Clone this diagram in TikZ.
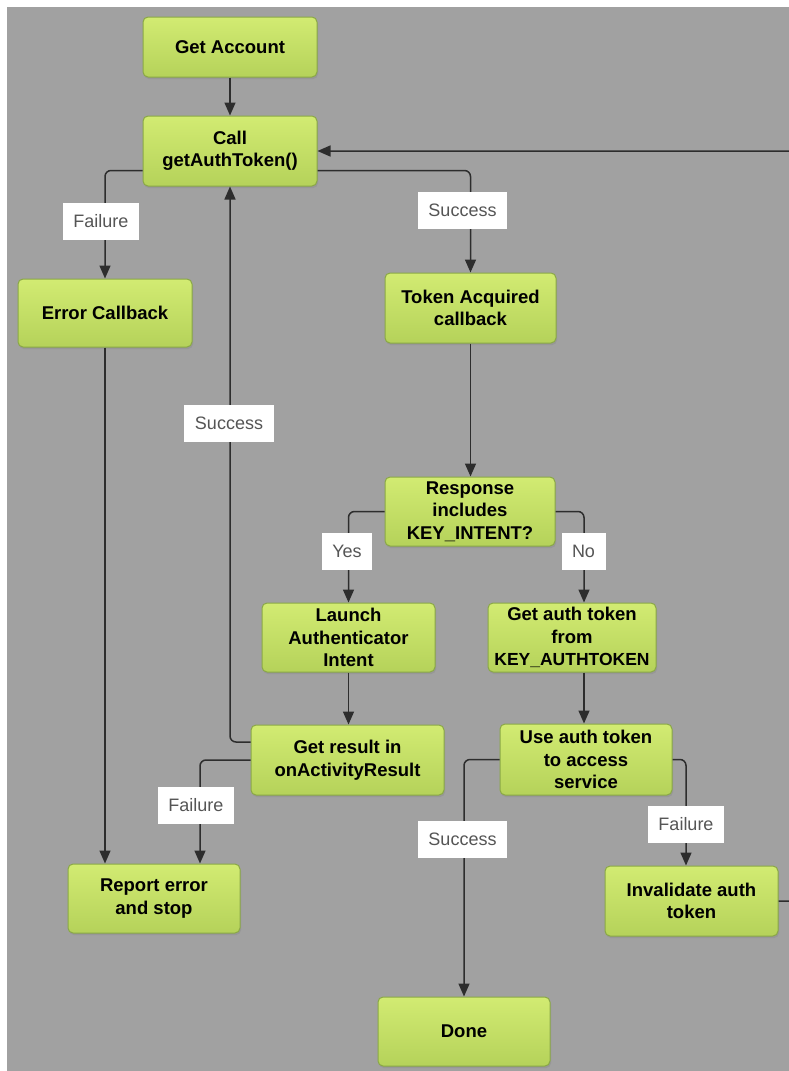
\documentclass[tikz,border=0pt]{standalone}
\usepackage{fontspec}
\setmainfont{Liberation Sans}
\usetikzlibrary{arrows.meta,shadows}
\definecolor{canvas}{RGB}{161,161,161}
\definecolor{boxtop}{RGB}{210,235,114}
\definecolor{boxbot}{RGB}{181,210,90}
\definecolor{boxedge}{RGB}{138,168,70}
\definecolor{wire}{RGB}{45,45,45}
\definecolor{labeltext}{RGB}{85,85,85}
\begin{document}
\begin{tikzpicture}[x=1pt,y=-1pt,
  stepbox/.style n args={2}{draw=boxedge, line width=1pt, rounded corners=5pt,
    top color=boxtop, bottom color=boxbot,
    drop shadow={shadow xshift=1pt, shadow yshift=-2pt, opacity=0.3},
    minimum width=#1pt, minimum height=#2pt, inner ysep=1pt,
    align=center, text=black,
    font=\fontsize{18.5}{22.5}\selectfont\bfseries},
  conn/.style={draw=wire, line width=1.5pt, rounded corners=6pt,
    -{Triangle[length=13pt,width=11pt]}},
  tag/.style={fill=white, text=labeltext, inner xsep=10.5pt, inner ysep=0pt,
    minimum height=37pt, font=\fontsize{18}{20}\selectfont}]

% page and canvas
\useasboundingbox (0,0) rectangle (789,1071);
\fill[white] (0,0) rectangle (789,1071);
\fill[canvas] (7,7) rectangle (790,1072);
\clip (0,0) rectangle (789,1071);

% steps
\node[stepbox={174}{60}] (acct) at (230,47) {Get Account};
\node[stepbox={174}{70}] (call) at (230,151) {Call\\getAuthToken()};
\node[stepbox={174}{68}] (err) at (105,313) {Error Callback};
\node[stepbox={171}{70}] (tok) at (470.5,308) {Token Acquired\\callback};
\node[stepbox={170}{69}] (resp) at (470,511.5) {Response\\includes\\KEY\_INTENT?};
\node[stepbox={173}{69}] (launch) at (348.5,637.5) {Launch\\Authenticator\\Intent};
\node[stepbox={168}{69}] (getauth) at (572,637.5) {Get auth token\\from\\{\fontsize{17.5}{22}\selectfont KEY\_AUTHTOKEN}};
\node[stepbox={193}{70}] (result) at (347.5,760) {Get result in\\onActivityResult};
\node[stepbox={172}{71}] (use) at (586,759.5) {Use auth token\\to access\\service};
\node[stepbox={172}{69}] (report) at (154,898.5) {Report error\\and stop};
\node[stepbox={173}{70}] (inval) at (691.5,901) {Invalidate auth\\token};
\node[stepbox={172}{69}] (done) at (464,1031.5) {Done};

% connectors
\draw[conn] (acct.south) -- (acct.south |- call.north);
\draw[conn] ([yshift=16pt]call.south west) -| (err.north);
\draw[conn] ([yshift=16pt]call.south east) -| (tok.north);
\draw[conn] (tok.south) -- (tok.south |- resp.north);
\draw[conn] (resp.west) -| (launch.north);
\draw[conn] (resp.east) -| ([xshift=12pt]getauth.north);
\draw[conn] (launch.south) -- (launch.south |- result.north);
\draw[conn] ([xshift=12pt]getauth.south) -- ([xshift=12pt]getauth.south |- use.north);
\draw[conn] ([yshift=18pt]result.west) -| (call.south);
\draw[conn] (result.west) -| ([xshift=46pt]report.north);
\draw[conn] (err.south) -- (err.south |- report.north);
\draw[conn] (use.west) -| (done.north);
\draw[conn] (use.east) -| ([xshift=-5.5pt]inval.north);
\draw[conn] (inval.east) -- ++(30,0) |- (call.east);

% connector labels
\node[tag] (lfail1) at (101,221) {Failure};
\node[tag] (lsucc1) at (462.5,210) {Success};
\node[tag] (lsucc2) at (229,423.5) {Success};
\node[tag] (lyes) at (347,551) {Yes};
\node[tag] (lno) at (583.5,551.5) {No};
\node[tag] (lfail2) at (196,805) {Failure};
\node[tag] (lsucc3) at (462.5,839) {Success};
\node[tag] (lfail3) at (686,824.5) {Failure};
\end{tikzpicture}
\end{document}
